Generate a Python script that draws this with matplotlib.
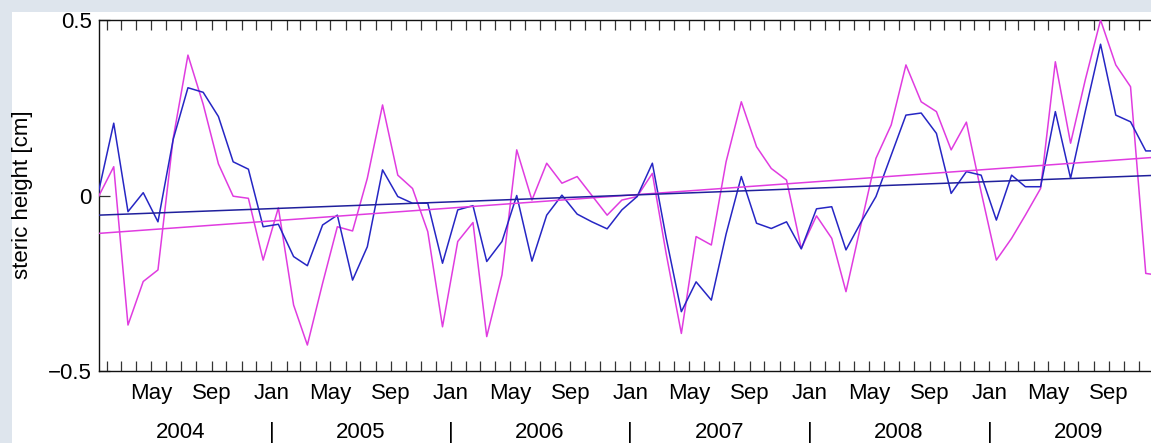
import matplotlib
matplotlib.use('Agg')
import matplotlib.pyplot as plt
import matplotlib.dates as mdates
import matplotlib.transforms as mtransforms
from matplotlib.patches import Rectangle
import numpy as np
import pandas as pd

plt.rcParams['font.family'] = ['Liberation Sans', 'DejaVu Sans']

# ---- data (monthly, mid-month, Jan 2004 .. Dec 2009) ----
dates = pd.date_range('2004-01-01', periods=72, freq='MS') + pd.Timedelta(days=14)

blue = [
    0.010, 0.206, -0.046, 0.008, -0.075, 0.160, 0.307, 0.294, 0.225, 0.096,
    0.075, -0.089, -0.082, -0.174, -0.200, -0.084, -0.056, -0.241, -0.146, 0.073,
    -0.003, -0.022, -0.022, -0.193, -0.041, -0.029, -0.188, -0.131, 0.000, -0.187,
    -0.056, 0.001, -0.053, -0.075, -0.095, -0.041, -0.003, 0.092, -0.120, -0.331,
    -0.246, -0.298, -0.110, 0.054, -0.079, -0.094, -0.075, -0.152, -0.038, -0.032,
    -0.155, -0.075, -0.003, 0.115, 0.229, 0.235, 0.177, 0.006, 0.068, 0.058,
    -0.070, 0.058, 0.025, 0.025, 0.239, 0.049, 0.240, 0.431, 0.229, 0.210,
    0.127, 0.127]

magenta = [
    -0.003, 0.082, -0.369, -0.245, -0.212, 0.163, 0.400, 0.260, 0.090, -0.002,
    -0.008, -0.184, -0.035, -0.312, -0.426, -0.250, -0.089, -0.101, 0.049, 0.258,
    0.058, 0.020, -0.103, -0.374, -0.131, -0.077, -0.402, -0.226, 0.130, -0.013,
    0.092, 0.035, 0.054, 0.000, -0.056, -0.013, -0.003, 0.063, -0.165, -0.393,
    -0.117, -0.141, 0.096, 0.267, 0.139, 0.077, 0.044, -0.151, -0.058, -0.122,
    -0.274, -0.080, 0.106, 0.201, 0.372, 0.267, 0.239, 0.130, 0.209, 0.010,
    -0.184, -0.122, -0.056, 0.020, 0.381, 0.149, 0.330, 0.500, 0.372, 0.310,
    -0.222, -0.228]

# linear trends: values at first and last date
trend_dates = [dates[0], dates[-1]]
blue_trend = [-0.056, 0.058]
magenta_trend = [-0.108, 0.110]

years = [2004, 2005, 2006, 2007, 2008, 2009]
month_names = {1: 'Jan', 5: 'May', 9: 'Sep'}
ytick_vals = [-0.5, 0, 0.5]
ytick_labels = ['\u22120.5', '0', '0.5']

# ---- layout ----
W, H = 1151, 443
fig = plt.figure(figsize=(W / 100, H / 100), dpi=100, facecolor='#dee5ed')
fig.add_artist(Rectangle((12 / W, 0), 1, (H - 12) / H, transform=fig.transFigure,
                         facecolor='white', edgecolor='none', zorder=-10))

px_per_day = 179.5 / 365.25
span_days = (dates[-1] - dates[0]).days
ax_w = span_days * px_per_day
ax = fig.add_axes([98.5 / W, (H - 371) / H, ax_w / W, 351 / H])
ax.set_facecolor('none')

BLUE = '#2626c4'
BLUE_T = '#20209c'
MAG = '#e03ce0'

ax.plot(dates, magenta, color=MAG, lw=1.1, zorder=3)
ax.plot(dates, blue, color=BLUE, lw=1.1, zorder=4)
ax.plot(trend_dates, magenta_trend, color=MAG, lw=1.1, zorder=5)
ax.plot(trend_dates, blue_trend, color=BLUE_T, lw=1.1, zorder=6)

ax.set_xlim(dates[0], dates[-1])
ax.set_ylim(-0.5, 0.5)

for s in ax.spines.values():
    s.set_linewidth(1.0)
    s.set_color('#111111')

ax.xaxis.set_major_locator(mdates.MonthLocator())
ax.tick_params(axis='x', which='both', direction='in', top=True, bottom=True,
               length=7, width=0.9, color='#333333', labelbottom=False)
ax.set_yticks(ytick_vals)
ax.set_yticklabels(ytick_labels)
ax.tick_params(axis='y', direction='in', left=True, right=False, length=8,
               width=0.9, color='#333333', labelsize=16, pad=5)

trans = mtransforms.blended_transform_factory(ax.transData, ax.transAxes)
for y in years:
    for m, name in month_names.items():
        d = pd.Timestamp(year=y, month=m, day=1)
        if dates[0] <= d <= dates[-1]:
            ax.text(d, -0.0789, name, transform=trans, ha='center', va='baseline',
                    fontsize=16, clip_on=False)
    ax.text(pd.Timestamp(year=y, month=7, day=1), -0.1915, str(y), transform=trans,
            ha='center', va='baseline', fontsize=16, clip_on=False)
    if y > years[0]:
        ax.text(pd.Timestamp(year=y, month=1, day=1), -0.1915, '|', transform=trans,
                ha='center', va='baseline', fontsize=16, clip_on=False)

fig.text(23 / W, 1 - 195 / H, 'steric height [cm]', rotation=90, ha='center',
         va='center', fontsize=16)

fig.savefig('out.png', dpi=100, facecolor=fig.get_facecolor())
